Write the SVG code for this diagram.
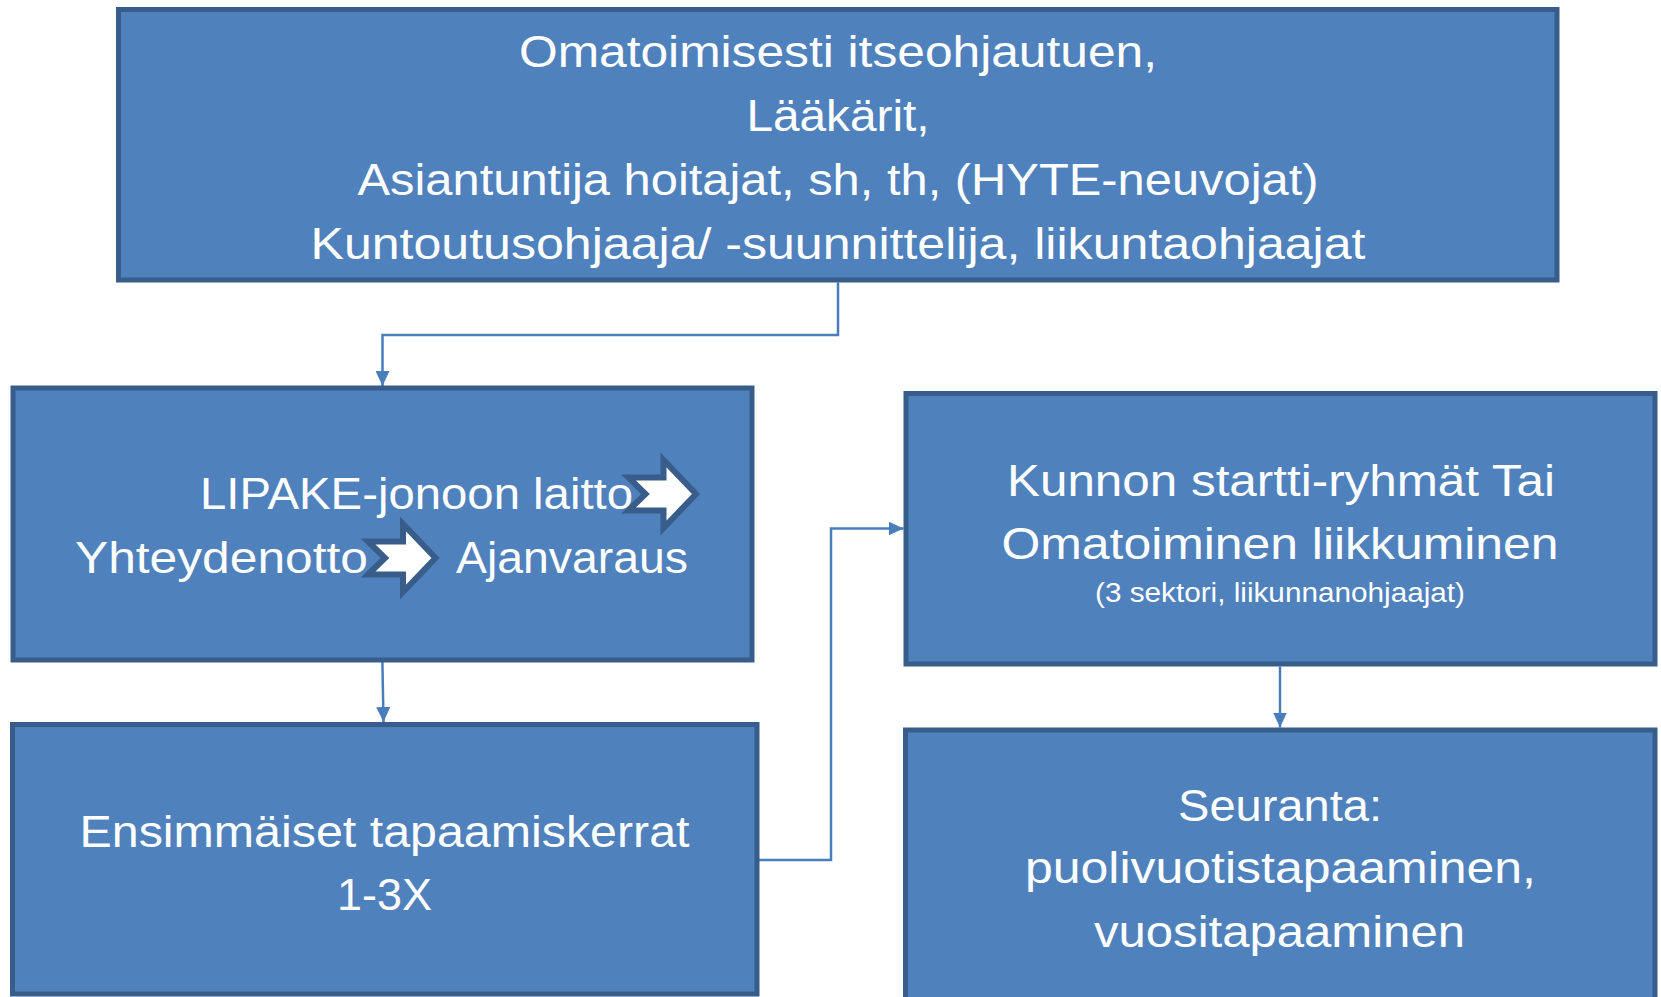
<svg xmlns="http://www.w3.org/2000/svg" width="1661" height="997" viewBox="0 0 1661 997">
<style>
.box{fill:#4F81BD;stroke:#385D8A;stroke-width:5}
.t{font-family:"Liberation Sans",Arial,sans-serif;font-size:45px;fill:#FFFFFF}
.s{font-family:"Liberation Sans",Arial,sans-serif;font-size:27px;fill:#FFFFFF}
.c{fill:none;stroke:#4A7EBB;stroke-width:2.5}
.ar{fill:#FFFFFF;stroke:#385D8A;stroke-width:6;stroke-linejoin:miter}
</style>
<defs>
<marker id="ah" markerUnits="userSpaceOnUse" markerWidth="15" markerHeight="14" refX="15" refY="7" orient="auto">
<path d="M0,0 L15,7 L0,14 Z" fill="#4A7EBB"/>
</marker>
<path id="notch" d="M-67.5,-16.5 L-32.5,-16.5 L-32.5,-34 L0,0 L-32.5,34 L-32.5,16.5 L-67.5,16.5 L-50.5,0 Z"/>
</defs>
<rect width="1661" height="997" fill="#FFFFFF"/>
<g id="connectors">
<path class="c" d="M838,282.5 V335 H382.5 V386" marker-end="url(#ah)"/>
<path class="c" d="M382.4,662 L383.5,722" marker-end="url(#ah)"/>
<path class="c" d="M759,860 H831 V528.5 H903.5" marker-end="url(#ah)"/>
<path class="c" d="M1280,666.5 V727.5" marker-end="url(#ah)"/>
</g>
<g id="n1">
<rect class="box" x="118.5" y="9.5" width="1438.5" height="270.5"/>
<text class="t" x="838" y="67" text-anchor="middle" textLength="638" lengthAdjust="spacingAndGlyphs">Omatoimisesti itseohjautuen,</text>
<text class="t" x="838" y="131" text-anchor="middle" textLength="183" lengthAdjust="spacingAndGlyphs">Lääkärit,</text>
<text class="t" x="838" y="195" text-anchor="middle" textLength="961" lengthAdjust="spacingAndGlyphs">Asiantuntija hoitajat, sh, th, (HYTE-neuvojat)</text>
<text class="t" x="838" y="258.5" text-anchor="middle" textLength="1055" lengthAdjust="spacingAndGlyphs">Kuntoutusohjaaja/ -suunnittelija, liikuntaohjaajat</text>
</g>
<g id="n2">
<rect class="box" x="13" y="388" width="739" height="272"/>
<text class="t" x="200" y="509" textLength="433" lengthAdjust="spacingAndGlyphs">LIPAKE-jonoon laitto</text>
<text class="t" x="75" y="573" textLength="293" lengthAdjust="spacingAndGlyphs">Yhteydenotto</text>
<text class="t" x="456" y="573" textLength="232" lengthAdjust="spacingAndGlyphs">Ajanvaraus</text>
<use href="#notch" class="ar" transform="translate(696,494)"/>
<use href="#notch" class="ar" transform="translate(435.5,558)"/>
</g>
<g id="n3">
<rect class="box" x="906" y="393.5" width="749" height="270.5"/>
<text class="t" x="1281" y="496" text-anchor="middle" textLength="548" lengthAdjust="spacingAndGlyphs">Kunnon startti-ryhmät Tai</text>
<text class="t" x="1280" y="559" text-anchor="middle" textLength="557" lengthAdjust="spacingAndGlyphs">Omatoiminen liikkuminen</text>
<text class="s" x="1280" y="602" text-anchor="middle" textLength="370" lengthAdjust="spacingAndGlyphs">(3 sektori, liikunnanohjaajat)</text>
</g>
<g id="n4">
<rect class="box" x="12.5" y="724.5" width="744.5" height="269.5"/>
<text class="t" x="384.5" y="846.5" text-anchor="middle" textLength="610" lengthAdjust="spacingAndGlyphs">Ensimmäiset tapaamiskerrat</text>
<text class="t" x="384.5" y="910" text-anchor="middle" textLength="95" lengthAdjust="spacingAndGlyphs">1-3X</text>
</g>
<g id="n5">
<rect class="box" x="905.5" y="730" width="749.5" height="300"/>
<text class="t" x="1280" y="821" text-anchor="middle" textLength="204" lengthAdjust="spacingAndGlyphs">Seuranta:</text>
<text class="t" x="1280.5" y="883" text-anchor="middle" textLength="511" lengthAdjust="spacingAndGlyphs">puolivuotistapaaminen,</text>
<text class="t" x="1279.5" y="947" text-anchor="middle" textLength="371" lengthAdjust="spacingAndGlyphs">vuositapaaminen</text>
</g>
</svg>
